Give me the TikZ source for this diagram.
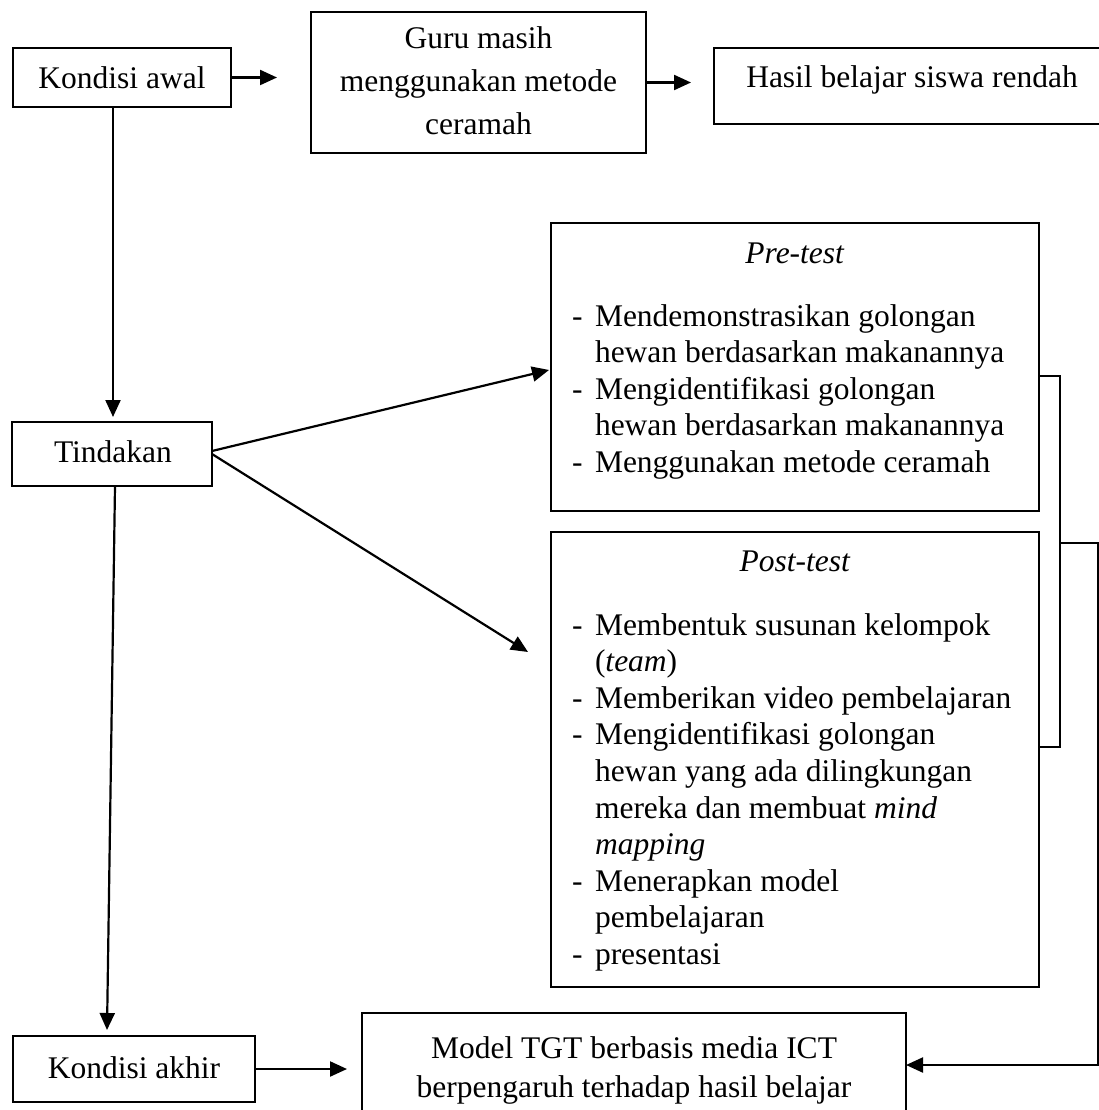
\documentclass[tikz,border=0pt]{standalone}
\usepackage{fontspec}
\setmainfont{Liberation Serif}
\usetikzlibrary{arrows.meta,calc}
\tikzset{
  box/.style={draw=black, line width=2pt, inner sep=0pt, outer sep=0pt, rectangle},
  conn/.style={draw=black, line width=2.2pt},
  arr/.style={conn, -{Triangle[length=17pt,width=15pt]}},
  txt/.style={inner sep=0pt, outer sep=0pt, font=\fontsize{31.5}{36.6}\selectfont},
}
\begin{document}
\begin{tikzpicture}[x=1pt,y=-1pt]
\useasboundingbox (0,0) rectangle (1099,1110);
% boxes
\node[box, minimum width=218, minimum height=59] (awal) at (122,77.5) {};
\node[box, minimum width=335, minimum height=141] (guru) at (478.5,82.5) {};
\node[box, minimum width=396, minimum height=76] (hasil) at (912,86) {};
\node[box, minimum width=200, minimum height=64] (tindakan) at (112,454) {};
\node[box, minimum width=488, minimum height=288] (pretest) at (795,367) {};
\node[box, minimum width=488, minimum height=455] (posttest) at (795,759.5) {};
\node[box, minimum width=242, minimum height=66] (akhir) at (134,1069) {};
\node[box, minimum width=544, minimum height=104] (model) at (634,1065) {};
% texts
\node[txt, anchor=base] (tawal) at (122,89) {Kondisi awal};
\node[txt, anchor=base, font=\fontsize{31.5}{43}\selectfont] (tguru) at (478.5,49)
  {\begin{tabular}[t]{@{}c@{}}Guru masih\\ menggunakan metode\\ ceramah\end{tabular}};
\node[txt, anchor=base] (thasil) at (912,88) {Hasil belajar siswa rendah};
\node[txt, anchor=base] (ttindakan) at (113,462) {Tindakan};
\node[txt, anchor=base] (tpre) at (795,263) {\textit{Pre-test}};
\node[txt, anchor=base west] (tprelist) at (572,326)
  {\begin{tabular}[t]{@{}p{23pt}@{}l@{}}
  -&Mendemonstrasikan golongan\\
   &hewan berdasarkan makanannya\\
  -&Mengidentifikasi golongan\\
   &hewan berdasarkan makanannya\\
  -&Menggunakan metode ceramah
  \end{tabular}};
\node[txt, anchor=base] (tpost) at (795,571) {\textit{Post-test}};
\node[txt, anchor=base west] (tpostlist) at (572,635)
  {\begin{tabular}[t]{@{}p{23pt}@{}l@{}}
  -&Membentuk susunan kelompok\\
   &(\textit{team})\\
  -&Memberikan video pembelajaran\\
  -&Mengidentifikasi golongan\\
   &hewan yang ada dilingkungan\\
   &mereka dan membuat \textit{mind}\\
   &\textit{mapping}\\
  -&Menerapkan model\\
   &pembelajaran\\
  -&presentasi
  \end{tabular}};
\node[txt, anchor=base] (takhir) at (134,1078) {Kondisi akhir};
\node[txt, anchor=base, font=\fontsize{31.5}{39}\selectfont] (tmodel) at (634,1058)
  {\begin{tabular}[t]{@{}c@{}}Model TGT berbasis media ICT\\ berpengaruh terhadap hasil belajar\end{tabular}};
% connectors
\draw[arr, shorten >=34pt] (awal.east) -- (awal.east -| guru.west);
\draw[arr, shorten >=23pt] (guru.east) -- (guru.east -| hasil.west);
\draw[arr, shorten >=5pt] ([xshift=1pt]awal.south -| tindakan.north) -- ([xshift=1pt]tindakan.north);
\draw[arr] ([yshift=3pt]tindakan.east) -- ([yshift=-3pt,xshift=-2pt]pretest.west);
\coordinate (postin) at (528,652);
\draw[arr] (tindakan.east) -- (postin);
\draw[arr] ([xshift=3pt]tindakan.south) -- ([xshift=-27pt,yshift=6pt]akhir.north);
\draw[arr, shorten >=15pt] (akhir.east) -- (akhir.east -| model.west);
% bracket joining pre-test and post-test
\draw[conn] ([yshift=-9pt]pretest.east) -- ++(21,0) |- ([yshift=12.5pt]posttest.east);
\coordinate (bmid) at (1060,543);
\draw[arr] (bmid) -- (1098,543) |- (model.east);
\end{tikzpicture}
\end{document}
